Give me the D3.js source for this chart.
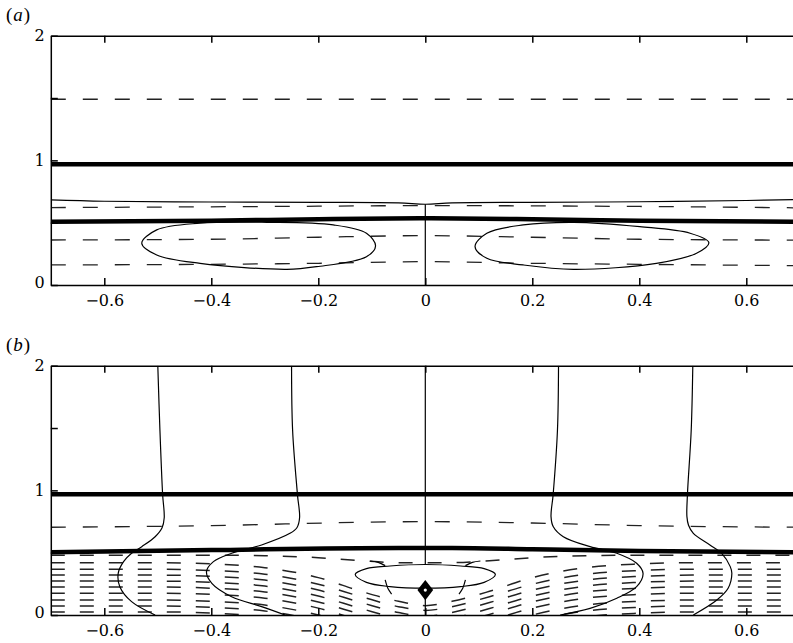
<!DOCTYPE html>
<html>
<head>
<meta charset="utf-8">
<script src="https://cdn.jsdelivr.net/npm/d3@7"></script>
<style>
  body { margin: 0; background: #fff; }
  svg { display: block; }
</style>
</head>
<body>
<svg id="chart" width="793" height="643"></svg>
<script>
// ---- axes ----
const xTicks = [-0.6, -0.4, -0.2, 0, 0.2, 0.4, 0.6]
const yTicks = [0, 0.5, 1, 1.5, 2]

// ---- panel (a) ----
const aThick = [
  [[-0.7, 0.969], [0, 0.969], [0.7, 0.969]],
  [[-0.7, 0.508], [-0.4, 0.516], [-0.2, 0.528], [0, 0.536], [0.2, 0.528], [0.4, 0.516], [0.7, 0.508]]
]
const aSolid = [
  [[-0.7, 0.683], [-0.6, 0.672], [-0.4, 0.666], [-0.2, 0.663], [-0.05, 0.659], [0, 0.648],
   [0.05, 0.659], [0.2, 0.663], [0.4, 0.668], [0.6, 0.678], [0.7, 0.686]],
  [[0, 0], [0, 0.648]]
]
const aDashed = [
  [[-0.7, 1.49], [0.7, 1.49]],
  [[-0.7, 0.621], [-0.2, 0.632], [0, 0.637], [0.4, 0.63], [0.7, 0.619]],
  [[-0.7, 0.361], [-0.4, 0.367], [-0.2, 0.383], [0, 0.396], [0.2, 0.383], [0.4, 0.367], [0.7, 0.36]],
  [[-0.7, 0.161], [-0.4, 0.166], [-0.2, 0.174], [0, 0.187], [0.2, 0.174], [0.4, 0.166], [0.7, 0.155]]
]
const aLoops = [
  [[-0.53, 0.335], [-0.502, 0.442], [-0.421, 0.496], [-0.296, 0.503], [-0.172, 0.482], [-0.11, 0.415],
   [-0.093, 0.313], [-0.11, 0.227], [-0.203, 0.147], [-0.259, 0.126], [-0.421, 0.174], [-0.502, 0.241]],
  [[0.093, 0.308], [0.115, 0.415], [0.183, 0.482], [0.277, 0.503], [0.401, 0.468], [0.495, 0.415],
   [0.53, 0.34], [0.507, 0.255], [0.432, 0.174], [0.277, 0.126], [0.183, 0.161], [0.115, 0.214]]
]

// ---- panel (b) ----
const bThick = [
  [[-0.7, 0.968], [0.7, 0.968]],
  [[-0.7, 0.503], [-0.4, 0.521], [-0.05, 0.538], [0.05, 0.538], [0.2, 0.527], [0.4, 0.513], [0.7, 0.503]]
]
const bDashed = [
  [[-0.7, 0.704], [-0.4, 0.717], [-0.1, 0.745], [0, 0.749], [0.2, 0.738], [0.4, 0.717], [0.7, 0.704]]
]
const bSolid = [
  [[-0.5, 2], [-0.496, 1.48], [-0.491, 0.968], [-0.488, 0.78], [-0.492, 0.70], [-0.505, 0.628], [-0.53, 0.548],
   [-0.549, 0.495], [-0.564, 0.428], [-0.574, 0.334], [-0.571, 0.227], [-0.549, 0.107], [-0.505, 0]],
  [[-0.25, 2], [-0.248, 1.48], [-0.239, 0.968], [-0.235, 0.78], [-0.24, 0.70], [-0.253, 0.655], [-0.306, 0.562],
   [-0.362, 0.495], [-0.396, 0.428], [-0.409, 0.348], [-0.399, 0.254], [-0.362, 0.147], [-0.306, 0.067], [-0.262, 0]],
  [[0.249, 2], [0.247, 1.48], [0.239, 0.968], [0.235, 0.789], [0.239, 0.71], [0.258, 0.628], [0.308, 0.548],
   [0.358, 0.495], [0.395, 0.415], [0.407, 0.334], [0.395, 0.227], [0.358, 0.134], [0.308, 0.053], [0.252, 0]],
  [[0.5, 2], [0.497, 1.48], [0.49, 0.968], [0.489, 0.789], [0.492, 0.72], [0.501, 0.655], [0.532, 0.562],
   [0.554, 0.495], [0.57, 0.388], [0.573, 0.334], [0.566, 0.214], [0.545, 0.12], [0.501, 0]],
  [[0, 2], [0, 0.405]],
  [[0, 0.2], [0, 0]],
  // short arcs crossing the small loop
  [[-0.103, 0.433], [-0.088, 0.422], [-0.075, 0.396]],
  [[0.103, 0.433], [0.088, 0.422], [0.075, 0.396]],
  [[-0.075, 0.281], [-0.07, 0.214], [-0.063, 0.168]],
  [[0.075, 0.281], [0.07, 0.214], [0.063, 0.168]]
]
const bLoops = [
  [[-0.131, 0.326], [-0.11, 0.372], [-0.066, 0.393], [0, 0.405], [0.066, 0.393], [0.11, 0.372],
   [0.131, 0.326], [0.11, 0.262], [0.066, 0.228], [0, 0.215], [-0.066, 0.228], [-0.11, 0.262]]
]
// dashed fan in the lower layer, one row of heights per contour at fanX
const fanX = [-0.7, -0.5, -0.4, -0.3, -0.2, -0.12, -0.05, 0, 0.05, 0.12, 0.2, 0.3, 0.4, 0.5, 0.7]
const fanRows = [
  [0.025, 0.025, 0.015, -0.015, -0.095, -0.195, -0.275, -0.305, -0.275, -0.195, -0.095, -0.015, 0.015, 0.025, 0.025],
  [0.072, 0.072, 0.062, 0.032, -0.048, -0.148, -0.228, -0.258, -0.228, -0.148, -0.048, 0.032, 0.062, 0.072, 0.072],
  [0.12, 0.12, 0.11, 0.08, 0.0, -0.1, -0.18, -0.21, -0.18, -0.1, 0.0, 0.08, 0.11, 0.12, 0.12],
  [0.175, 0.175, 0.165, 0.135, 0.055, -0.045, -0.125, -0.155, -0.125, -0.045, 0.055, 0.135, 0.165, 0.175, 0.175],
  [0.225, 0.225, 0.215, 0.185, 0.105, 0.005, -0.075, -0.105, -0.075, 0.005, 0.105, 0.185, 0.215, 0.225, 0.225],
  [0.272, 0.272, 0.262, 0.232, 0.152, 0.052, -0.028, -0.058, -0.028, 0.052, 0.152, 0.232, 0.262, 0.272, 0.272],
  [0.32, 0.32, 0.31, 0.28, 0.2, 0.1, 0.02, -0.01, 0.02, 0.1, 0.2, 0.28, 0.31, 0.32, 0.32],
  [0.367, 0.367, 0.357, 0.327, 0.247, 0.147, 0.067, 0.037, 0.067, 0.147, 0.247, 0.327, 0.357, 0.367, 0.367],
  [0.42, 0.42, 0.41, 0.38, 0.3, 0.19, 0.11, 0.075, 0.11, 0.19, 0.3, 0.38, 0.41, 0.42, 0.42],
  [0.48, 0.48, 0.48, 0.475, 0.46, 0.435, 0.42, 0.42, 0.42, 0.435, 0.46, 0.475, 0.48, 0.48, 0.48]
]
const diamond = [[0, 0.2]]

const panels = [
  { name: 'a', top: 35.7, bottom: 285, labelY: 21, thick: aThick, solid: aSolid, dashed: aDashed, loops: aLoops, fan: [], marks: [] },
  { name: 'b', top: 365.7, bottom: 615, labelY: 351, thick: bThick, solid: bSolid, dashed: bDashed, loops: bLoops,
    fan: fanRows.map(r => r.map((v, i) => [fanX[i], v])), marks: diamond }
]

const svg = d3.select('#chart')
// the serif family here has no digit glyphs of its own, so numbers use DejaVu Serif
const numFont = '"DejaVu Serif", serif'
const labFont = '"Liberation Serif", serif'
const fmtX = d => d < 0 ? '\u2212' + Math.abs(d) : String(d)

panels.forEach(p => drawPanel(p))

function drawPanel(p) {
    const x = d3.scaleLinear().domain([-0.7, 0.7]).range([50.8, 799.8])
    const y = d3.scaleLinear().domain([0, 2]).range([p.bottom, p.top])

    const clipId = 'clip-' + p.name
    svg.append('clipPath').attr('id', clipId)
        .append('rect')
        .attr('x', x(-0.7)).attr('y', y(2))
        .attr('width', x(0.7) - x(-0.7)).attr('height', y(0) - y(2))

    const plot = svg.append('g').attr('clip-path', `url(#${clipId})`)

    const smooth = d3.line().x(d => x(d[0])).y(d => y(d[1])).curve(d3.curveMonotoneX)
    const open = d3.line().x(d => x(d[0])).y(d => y(d[1])).curve(d3.curveCatmullRom.alpha(0.5))
    const closed = d3.line().x(d => x(d[0])).y(d => y(d[1])).curve(d3.curveCatmullRomClosed.alpha(0.5))

    // dashed fan (lower layer)
    plot.append('g').selectAll('path')
        .data(p.fan)
        .join('path')
        .attr('d', smooth)
        .attr('fill', 'none')
        .attr('stroke', '#222')
        .attr('stroke-width', 1.5)
        .attr('stroke-dasharray', '14,15')

    // dashed contours
    plot.append('g').selectAll('path')
        .data(p.dashed)
        .join('path')
        .attr('d', smooth)
        .attr('fill', 'none')
        .attr('stroke', '#222')
        .attr('stroke-width', 1.3)
        .attr('stroke-dasharray', '15,17')

    // thin solid contours
    plot.append('g').selectAll('path')
        .data(p.solid)
        .join('path')
        .attr('d', open)
        .attr('fill', 'none')
        .attr('stroke', '#000')
        .attr('stroke-width', 1.2)

    // closed contours
    plot.append('g').selectAll('path')
        .data(p.loops)
        .join('path')
        .attr('d', closed)
        .attr('fill', 'none')
        .attr('stroke', '#000')
        .attr('stroke-width', 1.2)

    // interfaces
    plot.append('g').selectAll('path')
        .data(p.thick)
        .join('path')
        .attr('d', smooth)
        .attr('fill', 'none')
        .attr('stroke', '#000')
        .attr('stroke-width', 4.5)

    // source marker
    const mk = plot.append('g').selectAll('g')
        .data(p.marks)
        .join('g')
        .attr('transform', d => `translate(${x(d[0])},${y(d[1])})`)
    mk.append('path')
        .attr('d', d3.symbol().type(d3.symbolDiamond).size(118))
        .attr('transform', 'scale(1.35,1)')
        .attr('fill', '#000')
    mk.append('circle').attr('r', 1.6).attr('fill', '#fff')

    // axes, ticks pointing inward
    const bottom = svg.append('g')
        .attr('transform', `translate(0,${y(0)})`)
        .call(d3.axisBottom(x).tickValues(xTicks).tickSize(-7).tickSizeOuter(0).tickPadding(10).tickFormat(fmtX))
    const top = svg.append('g')
        .attr('transform', `translate(0,${y(2)})`)
        .call(d3.axisTop(x).tickValues(xTicks).tickSize(-7).tickSizeOuter(0).tickFormat(() => ''))
    const left = svg.append('g')
        .attr('transform', `translate(${x(-0.7)},0)`)
        .call(d3.axisLeft(y).tickValues(yTicks).tickSize(-7).tickSizeOuter(0).tickPadding(6)
            .tickFormat(d => Number.isInteger(d) ? d : ''))
    left.selectAll('text').filter(d => d === 0).attr('dy', '0.15em')

    ;[bottom, top, left].forEach(a => {
        a.attr('font-family', null).attr('font-size', 16)
        a.selectAll('path, line').attr('stroke', '#000').attr('stroke-width', 1.5)
        a.selectAll('text').attr('fill', '#000').style('font-family', numFont)
    })

    // panel label
    const lab = svg.append('text')
        .attr('x', 6).attr('y', p.labelY)
        .style('font-family', labFont).attr('font-size', 19)
        .attr('letter-spacing', '1px')
    lab.append('tspan').text('(')
    lab.append('tspan').attr('font-style', 'italic').text(p.name)
    lab.append('tspan').text(')')
}
</script>
</body>
</html>
